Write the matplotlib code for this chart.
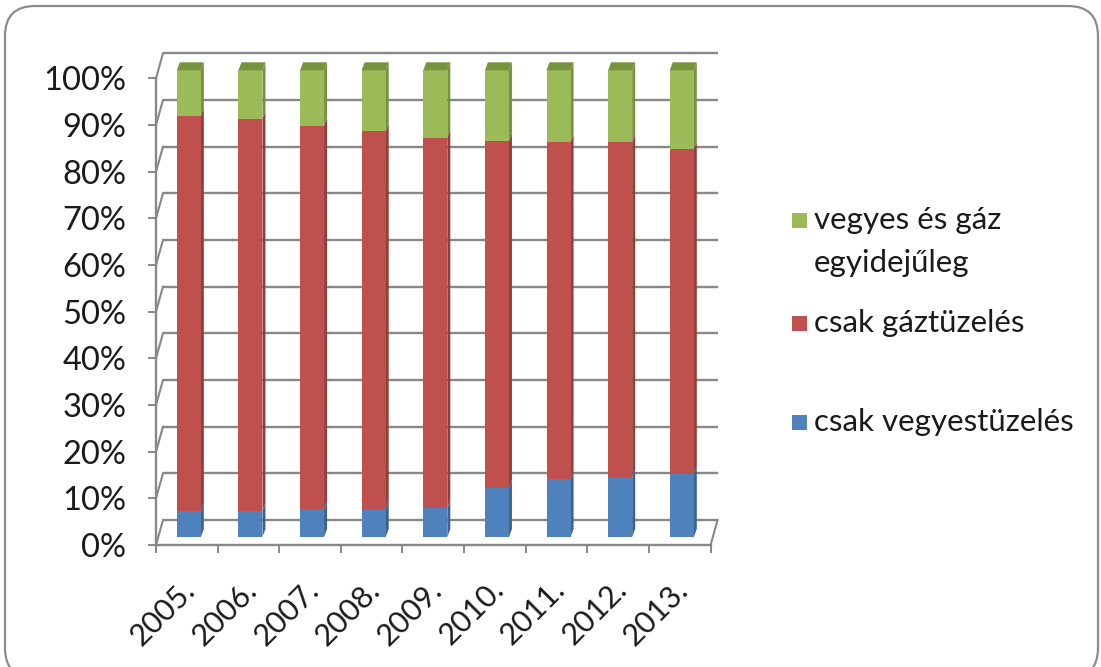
import matplotlib
matplotlib.use("Agg")
import matplotlib.pyplot as plt
import numpy as np
from matplotlib.transforms import ScaledTranslation
from matplotlib.patches import Polygon, Rectangle, FancyBboxPatch

plt.rcParams['font.family'] = ['Lato', 'DejaVu Sans']

# ---- data (percent shares) ----
years = ["2005.", "2006.", "2007.", "2008.", "2009.", "2010.", "2011.", "2012.", "2013."]
csak_vegyes = [5.5, 5.6, 5.9, 6.0, 6.2, 10.5, 12.4, 12.8, 13.5]
csak_gaz = [84.8, 84.0, 82.2, 81.0, 79.4, 74.4, 72.3, 71.8, 69.6]
vegyes_es_gaz = [9.7, 10.4, 11.9, 13.0, 14.4, 15.1, 15.3, 15.4, 16.9]
series_names = ["csak vegyestüzelés", "csak gáztüzelés", "vegyes és gáz\negyidejűleg"]
y_ticks = [0, 10, 20, 30, 40, 50, 60, 70, 80, 90, 100]
y_labels = ["0%", "10%", "20%", "30%", "40%", "50%", "60%", "70%", "80%", "90%", "100%"]

front_cols = ["#4F81BD", "#C0504D", "#9BBB59"]
side_cols = ["#3B6391", "#953D3A", "#76913F"]
top_col = "#77933C"
grid_col = "#888888"

W, H = 1101, 667
fig = plt.figure(figsize=(W / 100, H / 100), dpi=100)

# background frame (rounded rectangle)
bg = fig.add_axes([0, 0, 1, 1])
bg.set_xlim(0, W)
bg.set_ylim(H, 0)
bg.axis("off")
bg.add_patch(FancyBboxPatch((5, 6), W - 8, H + 5, boxstyle="round,pad=0,rounding_size=30",
                            fc="white", ec="#8C8C8C", lw=1.6))

# plot area in pixels (front plane)
x0, x1 = 156, 710.6
y0, y1 = 545, 78.3
ax = fig.add_axes([x0 / W, (H - y0) / H, (x1 - x0) / W, (y0 - y1) / H])
ax.set_xlim(-0.5, 8.5)
ax.set_ylim(0, 100)
ax.patch.set_alpha(0)

pxu = (x1 - x0) / 9.0     # px per category
pyu = (y0 - y1) / 100.0   # px per percent


def off(dx, dy):
    return ax.transData + ScaledTranslation(dx / 100, dy / 100, fig.dpi_scale_trans)


# back wall gridlines + left wall diagonals
bdx, bdy = 7, 25
for v in y_ticks:
    ax.plot([-0.5, 8.5], [v, v], transform=off(bdx, bdy), color=grid_col, lw=1.7,
            clip_on=False, zorder=1, solid_capstyle="butt")
    ax.plot([-0.5, -0.5 + bdx / pxu], [v, v + bdy / pyu], color=grid_col, lw=1.5,
            clip_on=False, zorder=1)
# floor right edge
ax.plot([8.5, 8.5 + bdx / pxu], [0, bdy / pyu], color=grid_col, lw=1.5, clip_on=False, zorder=1)

# bars
x = np.arange(len(years))
w = 0.39
bar_tr = off(2, 8)
ddx, ddy = 3 / pxu, 8 / pyu
bottom = np.zeros(len(years))
for vals, fc, sc in zip([csak_vegyes, csak_gaz, vegyes_es_gaz], front_cols, side_cols):
    vals = np.array(vals)
    ax.bar(x, vals, width=w, bottom=bottom, color=fc, transform=bar_tr, clip_on=False, zorder=4)
    for xi, b, v in zip(x, bottom, vals):
        xr = xi + w / 2
        ax.add_patch(Polygon([(xr, b), (xr + ddx, b + ddy), (xr + ddx, b + v + ddy), (xr, b + v)],
                             closed=True, fc=sc, ec="none", transform=bar_tr, clip_on=False, zorder=3))
    bottom = bottom + vals
for xi, t in zip(x, bottom):
    ax.add_patch(Polygon([(xi - w / 2, t), (xi + w / 2, t), (xi + w / 2 + ddx, t + ddy),
                          (xi - w / 2 + ddx, t + ddy)],
                         closed=True, fc=top_col, ec="none", transform=bar_tr, clip_on=False, zorder=4))

# axes (front)
for s in ["top", "right"]:
    ax.spines[s].set_visible(False)
for s in ["left", "bottom"]:
    ax.spines[s].set_color(grid_col)
    ax.spines[s].set_linewidth(1.7)
    ax.spines[s].set_zorder(2)
ax.set_yticks(y_ticks, y_labels)
ax.set_xticks(np.arange(-0.5, 9, 1), [""] * 10)
ax.tick_params(axis="y", length=5.8, width=1.4, color=grid_col, pad=15.5, labelsize=23.5, labelcolor="#1a1a1a")
ax.tick_params(axis="x", length=5.8, width=1.4, color=grid_col)

for xi, lab in zip(x, years):
    ax.text(xi, 0, lab, transform=off(4, -40), rotation=45, rotation_mode="anchor",
            ha="right", va="center", fontsize=22, color="#1a1a1a")

# legend
leg_items = [(series_names[2], front_cols[2], 220), (series_names[1], front_cols[1], 323),
             (series_names[0], front_cols[0], 422)]
for name, col, yc in leg_items:
    sq = 15
    bg.add_patch(Rectangle((792, yc - sq / 2), sq, sq, fc=col, ec="none"))
    if "\n" in name:
        l1, l2 = name.split("\n")
        bg.text(814, yc, l1, ha="left", va="center", fontsize=22.5, color="#1a1a1a")
        bg.text(814, yc + 43, l2, ha="left", va="center", fontsize=22.5, color="#1a1a1a")
    else:
        bg.text(814, yc, name, ha="left", va="center", fontsize=22.5, color="#1a1a1a")

fig.savefig("out.png", dpi=100)
